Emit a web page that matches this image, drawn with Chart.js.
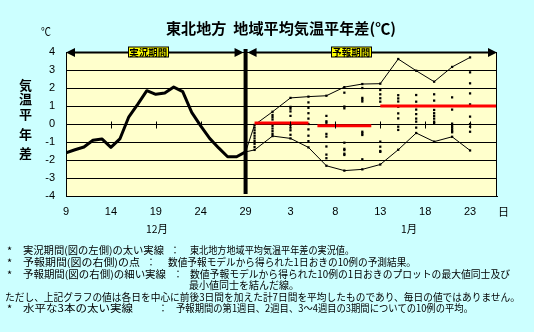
<!DOCTYPE html>
<html><head><meta charset="utf-8">
<script src="https://cdn.jsdelivr.net/npm/chart.js@4.4.0/dist/chart.umd.min.js"></script>
<style>
html,body{margin:0;padding:0;background:#CCFFFF;width:534px;height:332px;overflow:hidden;}
#wrap{position:relative;width:534px;height:332px;}
canvas{position:absolute;left:0;top:0;}
.t{position:absolute;white-space:pre;font-family:"Noto Sans CJK JP",sans-serif;color:#000;transform-origin:0 50%;line-height:1;}
</style></head>
<body><div id="wrap"><canvas id="c" width="534" height="332"></canvas></div>
<script>
// ---- data (day index: December d = d, January d = 31 + d) ----
const obsDays   = [9,10,11,12,13,14,15,16,17,18,19,20,21,22,23,24,25,26,27,28,29];
const obsValues = [-1.6,-1.43,-1.28,-0.9,-0.83,-1.3,-0.83,0.4,1.1,1.85,1.65,1.72,2.05,1.8,0.65,-0.1,-0.8,-1.33,-1.82,-1.82,-1.55];
const fcDays = [30,32,34,36,38,40,42,44,46,48,50,52,54];
const fcMax  = [-0.05,0.68,1.45,1.52,1.57,2.05,2.22,2.24,3.61,2.96,2.35,3.17,3.7];
const fcMin  = [-1.44,-0.67,-0.8,-1.3,-2.32,-2.59,-2.52,-2.25,-1.43,-0.5,-0.98,-0.71,-1.47];
const memberValues = [
  [-0.05,-0.2,-0.35,-0.5,-0.65,-0.8,-0.95,-1.1,-1.28,-1.44],
  [0.68,0.5,0.38,0.25,0.05,-0.1,-0.25,-0.4,-0.55,-0.67],
  [1.45,0.95,0.85,0.7,0.45,-0.05,-0.2,-0.35,-0.6,-0.8],
  [1.52,1.2,0.9,0.6,0.3,0.0,-0.3,-0.65,-0.95,-1.3],
  [1.57,0.45,0.15,0.07,-0.55,-0.7,-1.25,-1.7,-1.9,-2.32],
  [2.05,1.74,0.97,0.87,-1.04,-1.38,-1.45,-1.65,-1.72,-2.59],
  [2.22,2.0,1.45,1.35,1.25,-0.43,-0.52,-0.61,-1.96,-2.52],
  [2.24,1.89,1.65,1.43,1.24,-0.98,-1.26,-1.5,-1.55,-2.25],
  [3.61,1.6,1.42,1.25,0.96,0.59,0.31,-0.15,-0.33,-1.43],
  [2.96,1.61,1.24,1.0,0.8,0.55,0.3,0.13,-0.2,-0.5],
  [2.35,1.65,1.3,0.78,0.6,0.45,0.3,0.13,0.05,-0.98],
  [3.17,1.48,0.8,0.02,-0.1,-0.2,-0.3,-0.4,-0.46,-0.71],
  [3.7,2.87,2.26,1.7,1.09,0.41,0.0,-0.15,-0.43,-1.47]
];
const weekStart = [30,37,44];
const weekEnd   = [36,43,57];
const weekMean  = [0.05,-0.1,1.0];
const xTickDays   = [9,14,19,24,29,34,39,44,49,54];
const xTickLabels = ['9','14','19','24','29','3','8','13','18','23'];
const periodNames = ['実況期間','予報期間'];
const periodCenters = [18.1,40.7];
const splitDay = 29;

// ---- datasets ----
const last = {x: obsDays[obsDays.length-1], y: obsValues[obsValues.length-1]};
const maxLine = [last].concat(fcDays.map((d,i)=>({x:d,y:fcMax[i]})));
const minLine = [last].concat(fcDays.map((d,i)=>({x:d,y:fcMin[i]})));
const members = [];
fcDays.forEach((d,i)=>memberValues[i].forEach(v=>members.push({x:d,y:v})));
const datasets = [
  {data:maxLine, showLine:true, borderColor:'#000', borderWidth:1, pointRadius:0, order:5},
  {data:minLine, showLine:true, borderColor:'#000', borderWidth:1, pointRadius:0, order:5},
  {data:members, showLine:false, pointStyle:'rect', pointRadius:1.6, backgroundColor:'#000', borderColor:'#000', borderWidth:0, order:4}
];
weekMean.forEach((m,i)=>datasets.push({data:[{x:weekStart[i],y:m},{x:weekEnd[i],y:m}], showLine:true, borderColor:'#FF0000', borderWidth:3, pointRadius:0, order:3}));
datasets.push({data:obsDays.map((d,i)=>({x:d,y:obsValues[i]})), showLine:true, borderColor:'#000', borderWidth:3, pointRadius:0, order:1, borderJoinStyle:'round'});

const bgPlugin = {
  id:'bg',
  beforeDraw(chart){
    const {ctx, chartArea:a} = chart;
    ctx.save(); ctx.fillStyle='#FFFFCC'; ctx.fillRect(a.left,a.top,a.right-a.left,a.bottom-a.top); ctx.restore();
  },
  afterDatasetsDraw(chart){
    const {ctx, chartArea:a, scales:{x,y}} = chart;
    ctx.save();
    const y0 = Math.round(y.getPixelForValue(0))+0.5;
    ctx.strokeStyle='#000'; ctx.lineWidth=1;
    xTickDays.forEach(d=>{ const px=Math.round(x.getPixelForValue(d))+0.5; ctx.beginPath(); ctx.moveTo(px,y0-3); ctx.lineTo(px,y0+4); ctx.stroke(); });
    ctx.strokeRect(a.left+0.5,a.top+0.5,a.right-a.left-1,a.bottom-a.top);
    const xs = x.getPixelForValue(splitDay);
    ctx.fillStyle='#000';
    ctx.fillRect(xs-2, a.top-3, 4, a.bottom-a.top+1);
    const ay = a.top+0.5;
    function arrow(x1,x2){
      ctx.lineWidth=2; ctx.beginPath(); ctx.moveTo(x1+4,ay); ctx.lineTo(x2-4,ay); ctx.stroke();
      ctx.beginPath(); ctx.moveTo(x1,ay); ctx.lineTo(x1+9,ay-4.5); ctx.lineTo(x1+9,ay+4.5); ctx.closePath(); ctx.fill();
      ctx.beginPath(); ctx.moveTo(x2,ay); ctx.lineTo(x2-9,ay-4.5); ctx.lineTo(x2-9,ay+4.5); ctx.closePath(); ctx.fill();
    }
    arrow(a.left, xs-2);
    arrow(xs+2, a.right);
    ctx.font='bold 9.5px "Noto Sans CJK JP"';
    ctx.textAlign='center'; ctx.textBaseline='middle';
    periodNames.forEach((n,i)=>{
      const cx = x.getPixelForValue(periodCenters[i]);
      const w = 40, h = 10;
      ctx.fillStyle='#FFFF00'; ctx.fillRect(Math.round(cx-w/2)+0.5, ay-h/2-0.5, w, h);
      ctx.lineWidth=1; ctx.strokeStyle='#000'; ctx.strokeRect(Math.round(cx-w/2)+0.5, ay-h/2-0.5, w, h);
      ctx.fillStyle='#000'; ctx.fillText(n, cx+0.5, ay);
    });
    ctx.restore();
  }
};

new Chart(document.getElementById('c'), {
  type:'scatter',
  data:{datasets},
  options:{
    responsive:false, animation:false, devicePixelRatio:1,
    layout:{padding:{left:0,right:37,top:52,bottom:106}},
    plugins:{legend:{display:false}, tooltip:{enabled:false}, title:{display:false}},
    scales:{
      x:{type:'linear', min:9, max:57,
         afterBuildTicks:(s)=>{ s.ticks = xTickDays.map(v=>({value:v})); },
         afterFit:(s)=>{ s.height = 30; },
         grid:{display:false, drawTicks:false},
         border:{display:true, color:'#000', width:1},
         ticks:{autoSkip:false, maxRotation:0, padding:9, color:'#000', font:{family:'"Liberation Sans"', size:11},
                callback:(v,i)=>xTickLabels[i]}},
      y:{type:'linear', min:-4, max:4,
         afterFit:(s)=>{ s.width = 66; },
         grid:{color:'#000', lineWidth:1, drawTicks:false},
         border:{display:true, color:'#000', width:1},
         ticks:{stepSize:1, padding:11, color:'#000', font:{family:'"Liberation Sans"', size:11}}}
    }
  },
  plugins:[bgPlugin]
});

// ---- text labels (HTML) ----
const labels = [
  {x:166, y:27, s:'東北地方  地域平均気温平年差(℃)', size:15, bold:true, w:230},
  {x:41, y:31, s:'℃', size:11, w:10},
  {x:19, y:84, s:'気', size:13, bold:true},
  {x:19, y:98, s:'温', size:13, bold:true},
  {x:19, y:113, s:'平', size:13, bold:true},
  {x:19, y:133, s:'年', size:13, bold:true},
  {x:19, y:152, s:'差', size:13, bold:true},
  {x:498, y:211, s:'日', size:11},
  {x:146, y:228, s:'12月', size:11, w:22},
  {x:401, y:228, s:'1月', size:11, w:16},
  {x:7, y:250, s:'*', size:11},
  {x:23, y:250, s:'実況期間(図の左側)の太い実線', size:10, w:141},
  {x:170, y:250, s:'：', size:10},
  {x:190, y:250, s:'東北地方地域平均気温平年差の実況値。', size:10, w:164},
  {x:7, y:262, s:'*', size:11},
  {x:23, y:262, s:'予報期間(図の右側)の点', size:10, w:117},
  {x:146, y:262, s:'：', size:10},
  {x:168, y:262, s:'数値予報モデルから得られた1日おきの10例の予測結果。', size:10, w:248},
  {x:7, y:274, s:'*', size:11},
  {x:23, y:274, s:'予報期間(図の右側)の細い実線', size:10, w:143},
  {x:173, y:274, s:'：', size:10},
  {x:190, y:274, s:'数値予報モデルから得られた10例の1日おきのプロットの最大値同士及び', size:10, w:320},
  {x:189, y:285, s:'最小値同士を結んだ線。', size:10},
  {x:5, y:297, s:'ただし、上記グラフの値は各日を中心に前後3日間を加えた計7日間を平均したものであり、毎日の値ではありません。', size:10, w:515},
  {x:7, y:308, s:'*', size:11},
  {x:23, y:308, s:'水平な3本の太い実線', size:10, w:110},
  {x:158, y:308, s:'：', size:10},
  {x:176, y:308, s:'予報期間の第1週目、2週目、3～4週目の3期間についての10例の平均。', size:10, w:297}
];
const wrap = document.getElementById('wrap');
labels.forEach(l=>{
  const d = document.createElement('div');
  d.className='t';
  d.textContent = l.s;
  d.style.fontSize = l.size+'px';
  if (l.bold) d.style.fontWeight='bold';
  d.style.left = l.x+'px';
  d.style.top = (l.y - l.size/2)+'px';
  wrap.appendChild(d);
  if (l.w){
    const bw = d.getBoundingClientRect().width;
    if (bw>0) d.style.transform = 'scaleX('+(l.w/bw)+')';
  }
});
</script>
</body></html>
